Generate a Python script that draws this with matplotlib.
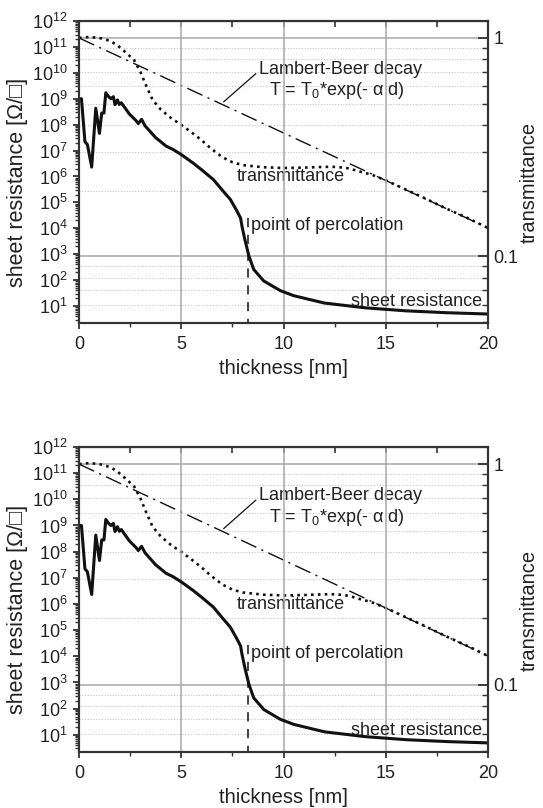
import matplotlib
matplotlib.use("Agg")
import matplotlib.pyplot as plt
from matplotlib.ticker import FixedLocator, FixedFormatter, LogLocator, MultipleLocator, NullFormatter

plt.rcParams['font.family'] = ['Liberation Sans', 'DejaVu Sans']
plt.rcParams['mathtext.fontset'] = 'custom'
plt.rcParams['mathtext.rm'] = 'Liberation Sans'
plt.rcParams['mathtext.it'] = 'Liberation Sans:italic'
plt.rcParams['mathtext.default'] = 'regular'

# sheet resistance vs thickness
thickness_rs = [0, 0.12, 0.29, 0.41, 0.62, 0.82, 1.0, 1.11, 1.22, 1.31, 1.45, 1.56, 1.68, 1.76,
                1.88, 1.97, 2.07, 2.2, 2.46, 2.8, 2.9, 3.06, 3.23, 3.74, 4.25, 4.6, 5.0, 5.6,
                6.0, 6.57, 7.0, 7.4, 7.7, 7.9, 7.97, 8.1, 8.3, 8.54, 9.03, 9.85, 10.5, 12, 14,
                16, 18, 20]
sheet_res = [1e9, 1e9, 2.2e7, 1.7e7, 2.3e6, 4.3e8, 4.6e7, 2.8e8, 2.8e8, 1.7e9, 1.2e9, 1e9,
             1.2e9, 5.9e8, 9e8, 6e8, 7e8, 5e8, 2.6e8, 1.4e8, 1.1e8, 1.6e8, 9e7, 3.2e7, 1.5e7,
             1.1e7, 7e6, 3.2e6, 1.8e6, 7.6e5, 3e5, 1.3e5, 5e4, 2.5e4, 1.2e4, 4e3, 9e2, 2.6e2,
             93, 39, 25, 13, 8.5, 6.5, 5.5, 4.9]

# optical transmittance vs thickness
thickness_t = [0, 0.5, 1.0, 1.5, 1.85, 2.34, 2.7, 3.0, 3.3, 3.6, 4.0, 4.5, 5.0, 5.5, 6.0, 6.4,
               7.0, 7.5, 8.0, 9, 10, 11, 12, 12.6, 13.2, 13.7, 14.3, 15, 16, 17, 18, 19, 20]
transmittance = [1.0, 1.01, 1.0, 0.97, 0.93, 0.85, 0.79, 0.70, 0.6, 0.52, 0.47, 0.43, 0.40,
                 0.37, 0.34, 0.315, 0.285, 0.27, 0.262, 0.256, 0.254, 0.255, 0.257, 0.257,
                 0.253, 0.245, 0.237, 0.223, 0.202, 0.183, 0.165, 0.15, 0.135]

# Lambert-Beer decay (straight line on log scale)
lb_thickness = [0, 20]
lb_transmittance = [1.0, 0.135]

percolation_d = 8.28
percolation_top = 2.6e4

TXT = '#222222'
SPINE = '#333333'


def draw_panel(ax):
    ax2 = ax.twinx()
    ax.set_zorder(ax2.get_zorder() + 1)
    ax.patch.set_visible(False)

    # right axis: transmittance
    ax2.set_yscale('log')
    ax2.set_ylim(0.0496, 1.195)
    ax2.yaxis.set_major_locator(FixedLocator([0.1, 1]))
    ax2.yaxis.set_major_formatter(FixedFormatter(['0.1', '1']))
    ax2.yaxis.set_minor_locator(FixedLocator([0.05, 0.06, 0.07, 0.08, 0.09, 0.2, 0.3, 0.4,
                                              0.5, 0.6, 0.7, 0.8, 0.9]))
    ax2.yaxis.set_minor_formatter(NullFormatter())
    ax2.grid(True, which='major', axis='y', color='#a8a8a8', lw=1.1, ls='-')
    ax2.grid(True, which='minor', axis='y', color='#c4c4c4', lw=0.8, ls=(0, (1, 1.5)))
    ax2.tick_params(axis='y', which='major', direction='in', length=7, width=1.3,
                    labelsize=13, colors=SPINE, labelcolor=TXT, pad=4)
    ax2.tick_params(axis='y', which='minor', direction='in', length=4, width=1.0, colors=SPINE)
    ax2.set_ylabel('transmittance', fontsize=14.5, color=TXT)
    ax2.yaxis.set_label_coords(1.078, 0.465)

    ax2.plot(lb_thickness, lb_transmittance, color='#111111', lw=1.0,
             ls=(0, (12, 4, 1.5, 4)))
    ax2.plot(thickness_t, transmittance, color='#111111', lw=1.9, ls=(0, (1, 1.6)))
    ax2.annotate('', xy=(6.97, 0.5), xytext=(8.75, 0.70),
                 arrowprops=dict(arrowstyle='-', color='#111111', lw=0.9))
    ax2.text(8.8, 0.72, 'Lambert-Beer decay', fontsize=13, color=TXT, va='center', ha='left')
    ax2.text(9.3, 0.575, 'T = T$_0$*exp(- \u03b1 d)', fontsize=13, color=TXT,
             va='center', ha='left')
    ax2.text(7.73, 0.232, 'transmittance', fontsize=13, color=TXT, va='center', ha='left')

    # left axis: sheet resistance
    ax.set_yscale('log')
    ax.set_ylim(2.2, 1e12)
    ax.set_xlim(0, 20)
    ax.yaxis.set_major_locator(FixedLocator([10.0 ** k for k in range(1, 13)]))
    ax.yaxis.set_minor_locator(LogLocator(base=10, subs=range(2, 10), numticks=30))
    ax.yaxis.set_minor_formatter(NullFormatter())
    ax.xaxis.set_major_locator(MultipleLocator(5))
    ax.xaxis.set_minor_locator(MultipleLocator(2.5))
    ax.grid(True, which='major', axis='x', color='#a8a8a8', lw=1.1)
    ax.tick_params(axis='both', which='major', direction='out', length=4.5, width=1.3,
                   labelsize=13, colors=SPINE, labelcolor=TXT)
    ax.tick_params(axis='both', which='minor', direction='out', length=3, width=1.0,
                   colors=SPINE)
    ax.tick_params(axis='x', pad=5)

    top = ax.secondary_xaxis('top')
    top.xaxis.set_major_locator(MultipleLocator(2.5))
    top.tick_params(direction='in', length=4, width=1.2, labeltop=False, colors=SPINE)

    ax.plot(thickness_rs, sheet_res, color='#111111', lw=2.2, solid_joinstyle='round')
    ax.plot([percolation_d, percolation_d], [percolation_top, 2.2], color='#111111', lw=1.1,
            ls=(0, (6, 5)))
    ax.text(8.4, 1.3e4, 'point of percolation', fontsize=13, color=TXT, va='center',
            ha='left')
    ax.text(19.7, 15, 'sheet resistance', fontsize=13, color=TXT, va='center', ha='right')

    ax.set_xlabel('thickness [nm]', fontsize=14.5, color=TXT, labelpad=4)
    ax.set_ylabel('sheet resistance [\u03a9/\u25a1]', fontsize=15.5, color=TXT)
    ax.yaxis.set_label_coords(-0.125, 0.467)

    for a in (ax, ax2):
        for s in a.spines.values():
            s.set_color(SPINE)
            s.set_linewidth(1.5)


fig = plt.figure(figsize=(5.43, 8.08), dpi=100)
ax_top = fig.add_axes([0.1455, 0.6002, 0.7532, 0.3738])
ax_bot = fig.add_axes([0.1455, 0.0693, 0.7532, 0.3775])
draw_panel(ax_top)
draw_panel(ax_bot)

fig.savefig('out.png', dpi=100)
